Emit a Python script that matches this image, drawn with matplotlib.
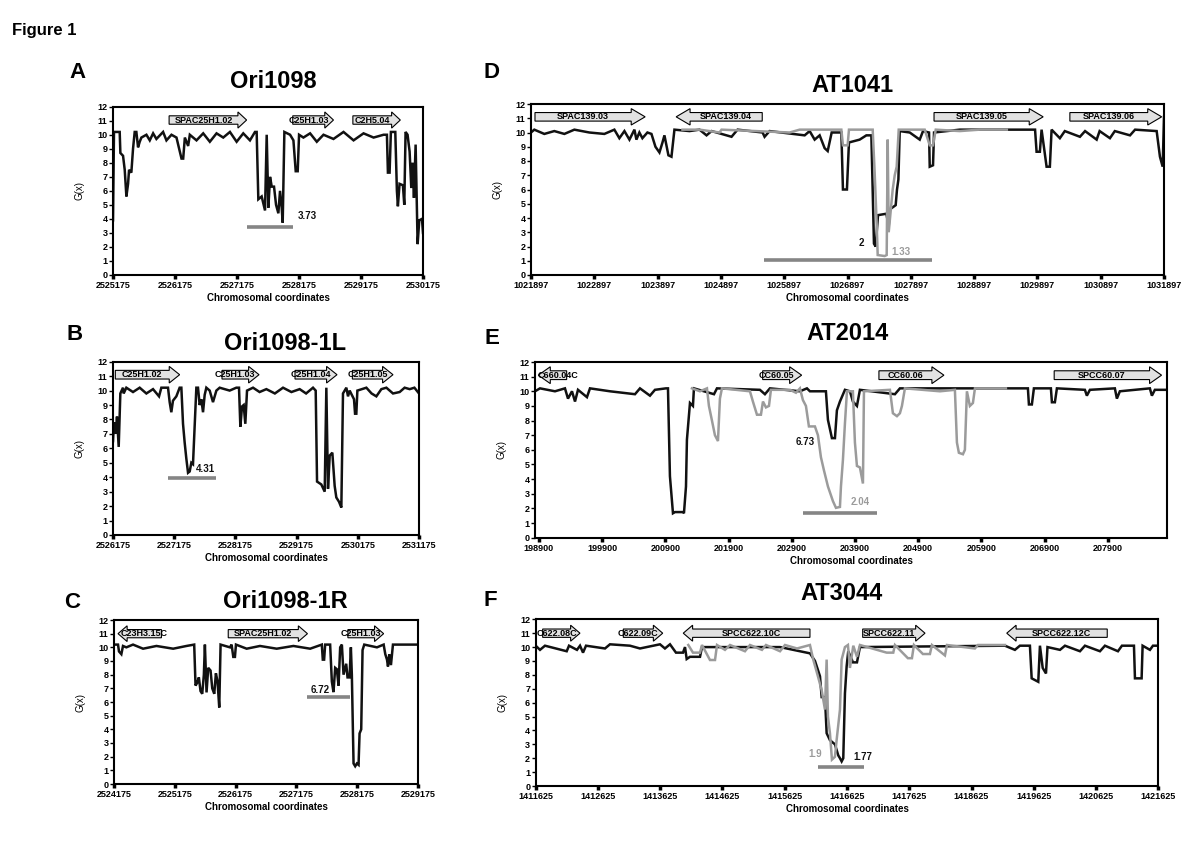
import matplotlib
matplotlib.use("Agg")
import matplotlib.pyplot as plt
from matplotlib.patches import FancyArrow

plt.rcParams['font.family'] = ['Liberation Sans', 'DejaVu Sans']

# G(x) profiles: (chromosomal coordinate, G(x))
a_black = [(2525175, 3.9), (2525191, 10.2), (2525283, 10.2), (2525294, 8.7), (2525337, 8.5), (2525364, 7.5),
           (2525391, 5.6), (2525418, 6.5), (2525434, 7.5), (2525471, 7.3), (2525498, 9.0), (2525525, 10.2),
           (2525552, 10.2), (2525579, 9.1), (2525606, 9.5), (2525633, 9.8), (2525714, 10.0), (2525768, 9.6),
           (2525822, 10.1), (2525875, 9.7), (2525983, 10.2), (2526037, 9.6), (2526118, 10.0), (2526199, 9.8),
           (2526242, 9.0), (2526280, 8.3), (2526307, 8.3), (2526334, 9.8), (2526387, 9.2), (2526414, 10.0),
           (2526522, 9.6), (2526630, 10.1), (2526737, 9.5), (2526845, 10.1), (2526953, 9.8), (2527061, 10.2),
           (2527169, 9.5), (2527276, 10.1), (2527384, 9.6), (2527465, 10.2), (2527492, 10.2), (2527519, 5.4),
           (2527573, 5.6), (2527627, 4.6), (2527654, 10.0), (2527681, 4.8), (2527708, 7.0), (2527735, 6.3),
           (2527772, 6.3), (2527805, 5.0), (2527842, 4.4), (2527869, 6.0), (2527896, 4.8), (2527912, 3.73),
           (2527939, 10.2), (2528031, 10.0), (2528085, 9.6), (2528122, 7.4), (2528154, 7.4), (2528176, 10.0),
           (2528246, 9.8), (2528354, 10.1), (2528462, 9.5), (2528570, 10.0), (2528731, 9.7), (2528893, 10.2),
           (2529055, 9.6), (2529216, 10.1), (2529378, 9.8), (2529539, 10.0), (2529593, 10.0), (2529609, 7.3),
           (2529636, 7.3), (2529657, 10.2), (2529728, 10.2), (2529754, 6.0), (2529770, 4.9), (2529797, 6.5),
           (2529851, 6.4), (2529873, 5.0), (2529894, 10.2), (2529926, 10.0), (2529959, 8.8), (2529986, 6.2),
           (2530007, 8.0), (2530029, 5.5), (2530056, 9.3), (2530088, 2.2), (2530115, 3.9), (2530158, 4.0),
           (2530175, 3.0)]

b_black = [(2526175, 6.5), (2526191, 7.8), (2526219, 7.0), (2526240, 8.2), (2526268, 6.1), (2526295, 9.8),
           (2526338, 10.2), (2526349, 9.8), (2526393, 10.2), (2526502, 9.9), (2526611, 10.2), (2526720, 9.8),
           (2526829, 10.1), (2526927, 9.6), (2526965, 10.2), (2527074, 10.2), (2527101, 9.2), (2527128, 8.5),
           (2527155, 9.3), (2527210, 9.6), (2527264, 10.2), (2527292, 10.2), (2527319, 7.7), (2527346, 6.4),
           (2527373, 5.3), (2527401, 4.31), (2527428, 4.4), (2527455, 5.0), (2527482, 4.9), (2527510, 7.6),
           (2527537, 10.2), (2527564, 10.2), (2527591, 9.0), (2527618, 9.4), (2527646, 8.5), (2527673, 9.7),
           (2527700, 10.2), (2527755, 10.0), (2527809, 9.2), (2527864, 10.0), (2527918, 10.2), (2528081, 10.0),
           (2528190, 10.2), (2528234, 10.2), (2528256, 7.5), (2528283, 8.9), (2528310, 9.0), (2528337, 7.7),
           (2528365, 10.0), (2528463, 10.2), (2528570, 9.9), (2528681, 10.1), (2528820, 9.8), (2528953, 10.2),
           (2529090, 9.9), (2529225, 10.1), (2529330, 9.8), (2529443, 10.2), (2529487, 10.0), (2529509, 3.7),
           (2529579, 3.5), (2529634, 3.0), (2529661, 10.2), (2529688, 3.2), (2529716, 5.5), (2529759, 5.7),
           (2529797, 3.4), (2529824, 2.6), (2529868, 2.3), (2529906, 1.9), (2529933, 9.8), (2529988, 10.2),
           (2530015, 9.6), (2530042, 10.0), (2530113, 9.4), (2530130, 8.4), (2530151, 8.4), (2530168, 10.0),
           (2530315, 10.2), (2530400, 9.8), (2530478, 9.6), (2530560, 10.1), (2530642, 10.2), (2530750, 9.8),
           (2530859, 9.9), (2530940, 10.2), (2531023, 10.1), (2531100, 10.2), (2531175, 9.8)]

c_black = [(2524175, 10.2), (2524241, 10.2), (2524257, 9.7), (2524296, 9.5), (2524323, 10.1), (2524378, 10.0),
           (2524488, 10.2), (2524653, 9.9), (2524873, 10.1), (2525148, 9.9), (2525367, 10.1), (2525494, 10.2),
           (2525516, 7.2), (2525543, 7.4), (2525571, 7.8), (2525598, 6.8), (2525626, 6.6), (2525653, 8.0),
           (2525670, 10.2), (2525697, 6.7), (2525725, 8.5), (2525763, 8.3), (2525791, 7.0), (2525824, 6.6),
           (2525851, 8.1), (2525878, 7.5), (2525906, 5.6), (2525928, 10.2), (2526082, 10.0), (2526109, 10.2),
           (2526137, 9.3), (2526164, 9.3), (2526181, 10.2), (2526357, 9.9), (2526576, 10.1), (2526851, 9.9),
           (2527126, 10.1), (2527401, 9.9), (2527593, 10.2), (2527609, 9.1), (2527631, 9.1), (2527648, 10.2),
           (2527730, 10.2), (2527758, 7.5), (2527785, 6.72), (2527813, 8.5), (2527840, 8.4), (2527868, 7.2),
           (2527895, 10.0), (2527923, 10.2), (2527950, 8.0), (2527994, 8.8), (2528016, 7.8), (2528049, 7.8),
           (2528071, 10.0), (2528087, 8.0), (2528104, 4.0), (2528115, 1.5), (2528142, 1.3), (2528170, 1.5),
           (2528197, 1.4), (2528214, 3.7), (2528241, 4.0), (2528263, 9.8), (2528291, 10.2), (2528500, 10.0),
           (2528610, 10.2), (2528637, 9.5), (2528665, 9.1), (2528681, 8.6), (2528703, 9.5), (2528730, 8.7),
           (2528763, 10.2), (2529175, 10.2)]

d_black = [(1021897, 10.0), (1021949, 10.2), (1022107, 9.9), (1022265, 10.1), (1022424, 9.9), (1022582, 10.2),
           (1022819, 10.0), (1023056, 9.9), (1023214, 10.2), (1023293, 9.6), (1023373, 10.1), (1023452, 9.5),
           (1023531, 10.2), (1023562, 9.5), (1023609, 10.0), (1023657, 9.6), (1023736, 10.0), (1023800, 9.9),
           (1023863, 9.0), (1023926, 8.6), (1023974, 9.3), (1024005, 9.8), (1024068, 8.4), (1024116, 8.3),
           (1024163, 10.2), (1024401, 10.1), (1024559, 10.2), (1024670, 9.8), (1024749, 10.1), (1025065, 9.7),
           (1025160, 10.2), (1025556, 10.0), (1025587, 9.7), (1025666, 10.1), (1026220, 9.8), (1026299, 10.1),
           (1026378, 9.5), (1026457, 9.8), (1026536, 8.9), (1026584, 8.7), (1026647, 10.0), (1026800, 10.0),
           (1026825, 6.0), (1026888, 6.0), (1026920, 9.3), (1027089, 9.5), (1027195, 9.8), (1027274, 9.8),
           (1027315, 2.2), (1027342, 2.0), (1027379, 4.2), (1027511, 4.3), (1027548, 3.4), (1027564, 4.6),
           (1027658, 4.9), (1027679, 6.0), (1027701, 6.7), (1027722, 10.1), (1027880, 10.0), (1028038, 9.5),
           (1028090, 10.1), (1028185, 10.0), (1028196, 7.6), (1028248, 7.7), (1028264, 10.0), (1028671, 10.2),
           (1029860, 10.2), (1029884, 8.65), (1029936, 8.65), (1029963, 10.2), (1030042, 7.6), (1030094, 7.6),
           (1030121, 10.2), (1030252, 9.6), (1030330, 10.1), (1030569, 9.7), (1030650, 10.1), (1030833, 9.5),
           (1030880, 10.1), (1031043, 9.6), (1031120, 10.1), (1031360, 9.8), (1031440, 10.2), (1031781, 10.1),
           (1031833, 8.3), (1031876, 7.6), (1031897, 11.1)]

d_grey = [(1024290, 10.2), (1024559, 10.2), (1024875, 10.0), (1024907, 10.2), (1025983, 10.0), (1026141, 10.2),
          (1026800, 10.2), (1026825, 9.1), (1026899, 9.1), (1026920, 10.2), (1027295, 10.2), (1027326, 7.2),
          (1027358, 3.6), (1027374, 1.4), (1027484, 1.33), (1027516, 1.4), (1027532, 9.5), (1027548, 3.0),
          (1027611, 6.0), (1027643, 7.0), (1027674, 7.6), (1027706, 10.2), (1028117, 10.2), (1028196, 9.1),
          (1028248, 9.1), (1028291, 10.2), (1028671, 10.1), (1028987, 10.2), (1029414, 10.2)]

e_black = [(198837, 10.0), (198916, 10.2), (199153, 10.0), (199311, 10.2), (199359, 9.5), (199422, 10.0),
           (199470, 9.3), (199517, 10.1), (199659, 9.6), (199707, 10.2), (200023, 10.0), (200419, 9.8),
           (200498, 10.2), (200656, 9.7), (200735, 10.1), (200909, 10.2), (200941, 10.2), (200972, 4.2),
           (201020, 1.67), (201052, 1.75), (201178, 1.75), (201194, 1.67), (201226, 3.5), (201241, 6.7),
           (201289, 9.2), (201336, 9.0), (201352, 10.2), (201669, 9.8), (201716, 10.2), (202396, 10.1),
           (202475, 9.8), (202554, 10.2), (203029, 10.0), (203140, 10.2), (203187, 10.0), (203440, 10.0),
           (203472, 8.05), (203535, 6.8), (203583, 6.8), (203614, 8.7), (203662, 9.3), (203741, 10.1),
           (203820, 10.0), (203867, 9.3), (203931, 9.0), (203978, 10.1), (204532, 9.8), (204611, 10.2),
           (206636, 10.2), (206652, 9.1), (206699, 9.1), (206731, 10.2), (207000, 10.2), (207016, 9.25),
           (207063, 9.25), (207095, 10.2), (207538, 10.1), (207569, 9.7), (207617, 10.1), (208012, 10.2),
           (208044, 9.5), (208091, 10.0), (208566, 10.2), (208598, 9.7), (208645, 10.1), (208835, 10.1)]

e_grey = [(201320, 10.2), (201447, 10.0), (201558, 10.2), (201589, 9.0), (201637, 8.0), (201684, 7.0),
          (201732, 6.6), (201763, 9.5), (201795, 10.2), (202238, 10.0), (202285, 9.3), (202349, 8.4),
          (202412, 8.4), (202444, 9.3), (202491, 8.9), (202539, 9.0), (202570, 10.1), (202871, 10.1),
          (202966, 9.9), (203029, 10.2), (203076, 9.4), (203124, 9.0), (203171, 7.6), (203266, 7.6),
          (203314, 7.0), (203361, 5.5), (203409, 4.6), (203472, 3.5), (203551, 2.5), (203599, 2.04),
          (203662, 2.1), (203678, 3.5), (203709, 5.3), (203741, 7.8), (203773, 10.0), (203867, 10.0),
          (203899, 6.5), (203931, 4.9), (203978, 4.8), (204026, 3.7), (204042, 10.0), (204453, 10.1),
          (204500, 8.5), (204564, 8.3), (204611, 8.5), (204643, 9.0), (204690, 10.2), (205244, 10.0),
          (205481, 10.1), (205513, 6.5), (205544, 5.8), (205608, 5.7), (205639, 6.0), (205671, 10.0),
          (205718, 9.0), (205766, 9.2), (205798, 10.2), (206288, 10.2)]

f_black = [(1411625, 10.1), (1411694, 9.8), (1411774, 10.1), (1412123, 9.7), (1412160, 10.1), (1412288, 9.8),
           (1412337, 10.1), (1412385, 9.6), (1412433, 10.1), (1412738, 9.9), (1412818, 10.2), (1413139, 10.1),
           (1413300, 9.9), (1413621, 10.2), (1413701, 9.9), (1413782, 10.2), (1413878, 9.6), (1413991, 9.6),
           (1414023, 10.0), (1414050, 9.14), (1414103, 9.3), (1414264, 9.3), (1414296, 10.0), (1415549, 10.0),
           (1416030, 9.55), (1416111, 9.0), (1416191, 7.9), (1416218, 6.4), (1416271, 6.4), (1416298, 3.8),
           (1416351, 3.3), (1416431, 3.0), (1416485, 2.2), (1416512, 2.0), (1416539, 1.77), (1416565, 2.0),
           (1416592, 6.67), (1416619, 8.6), (1416645, 9.7), (1416721, 8.9), (1416785, 8.9), (1416833, 10.0),
           (1419162, 10.1), (1419322, 9.8), (1419402, 10.1), (1419563, 10.1), (1419591, 7.75), (1419697, 7.5),
           (1419724, 10.1), (1419768, 8.5), (1419821, 8.1), (1419845, 10.0), (1420046, 9.8), (1420126, 10.1),
           (1420367, 9.7), (1420447, 10.1), (1420688, 9.7), (1420768, 10.1), (1420977, 9.7), (1421041, 10.1),
           (1421234, 10.1), (1421250, 7.75), (1421357, 7.75), (1421373, 10.1), (1421491, 9.8), (1421539, 10.1),
           (1421624, 10.1)]

f_grey = [(1414076, 10.15), (1414151, 9.6), (1414264, 9.6), (1414296, 10.15), (1414424, 9.07), (1414505, 9.07),
          (1414537, 10.15), (1414665, 9.8), (1414746, 10.15), (1414986, 9.7), (1415067, 10.15), (1415259, 9.8),
          (1415324, 10.15), (1415549, 9.7), (1415629, 10.15), (1415822, 9.9), (1416030, 10.15), (1416083, 9.1),
          (1416164, 7.8), (1416218, 6.9), (1416271, 5.5), (1416298, 9.1), (1416319, 5.0), (1416351, 3.8),
          (1416383, 1.9), (1416431, 2.1), (1416463, 3.5), (1416512, 5.5), (1416539, 9.1), (1416592, 10.0),
          (1416640, 10.15), (1416672, 8.5), (1416726, 10.1), (1416785, 9.3), (1416833, 10.15), (1417262, 9.6),
          (1417368, 9.6), (1417395, 10.15), (1417603, 9.2), (1417668, 9.2), (1417700, 10.15), (1417844, 9.5),
          (1417957, 9.5), (1417989, 10.15), (1418198, 9.4), (1418230, 10.15), (1418679, 9.9), (1418728, 10.15),
          (1419162, 10.15)]

# genes: name, tail coordinate, tip coordinate
a_genes = [('SPAC25H1.02', 2526080, 2527330), ('C25H1.03', 2528074, 2528731), ('C2H5.04', 2529044, 2529809)]
b_genes = [('C25H1.02', 2526213, 2527264), ('C25H1.03', 2527956, 2528561), ('C25H1.04', 2529149, 2529835),
           ('C25H1.05', 2530086, 2530750)]
c_genes = [('C23H3.15C', 2524955, 2524241), ('SPAC25H1.02', 2526054, 2527357), ('C25H1.03', 2528022, 2528610)]
d_genes = [('SPAC139.03', 1021960, 1023700), ('SPAC139.04', 1025550, 1024190), ('SPAC139.05', 1028264, 1029988),
           ('SPAC139.06', 1030410, 1031860)]
e_genes = [('C660.04C', 199338, 198889), ('CC60.05', 202439, 203056), ('CC60.06', 204279, 205307),
           ('SPCC60.07', 207052, 208751)]
f_genes = [('C622.08C', 1411737, 1412336), ('C622.09C', 1413032, 1413665), ('SPCC622.10C', 1416030, 1413995),
           ('SPCC622.11', 1416877, 1417878), ('SPCC622.12C', 1420805, 1419191)]

# highlighted regions (start, end, level)
a_bar = (2527330, 2528085, 3.41)
b_bar = (2527074, 2527864, 3.92)
c_bar = (2527357, 2528049, 6.38)
d_bar = (1025576, 1028239, 1.05)
e_bar = (203081, 204242, 1.71)
f_bar = (1416164, 1416898, 1.39)

BLACK = '#111111'
GREY = '#9b9b9b'
BAR = '#858585'
BOX = '#e2e2e2'

fig = plt.figure(figsize=(12, 8.52), dpi=100)


def rect(left, top, right, bottom):
    return [left / 1200, 1 - bottom / 852, (right - left) / 1200, (bottom - top) / 852]


def make(box, xlim, ticks, letter, title, lpos, tpos):
    ax = fig.add_axes(rect(*box))
    ax.set_xlim(*xlim)
    ax.set_ylim(0, 12)
    ax.set_yticks(range(13))
    ax.set_yticklabels([str(i) for i in range(13)], fontsize=6.5, fontweight='bold')
    ax.set_xticks(ticks)
    ax.set_xticklabels([str(t) for t in ticks], fontsize=6.5, fontweight='bold')
    for s in ax.spines.values():
        s.set_linewidth(1.5)
    ax.tick_params(axis='x', length=3, width=2.5, pad=1.5)
    ax.tick_params(axis='y', length=3, width=1, pad=1)
    ax.set_ylabel('G(x)', fontsize=7, labelpad=9)
    ax.set_xlabel('Chromosomal coordinates', fontsize=7, fontweight='bold', labelpad=2)
    fig.text(lpos[0] / 1200, 1 - lpos[1] / 852, letter, fontsize=16, fontweight='bold', ha='center', va='center')
    fig.text(tpos[0] / 1200, 1 - tpos[1] / 852, title, fontsize=17, fontweight='bold', ha='center', va='center')
    return ax


def trace(ax, pts, color, lw=1.8, z=2):
    xs, ys = zip(*pts)
    ax.plot(xs, ys, color=color, lw=lw, zorder=z, solid_joinstyle='miter')


def genes(ax, items, y, head):
    for name, tail, tip in items:
        d = tip - tail
        ax.add_patch(FancyArrow(tail, y, d, 0, width=0.6, head_width=1.15, head_length=head,
                                length_includes_head=True, fc=BOX, ec='black', lw=0.8, zorder=4))
        sign = 1 if d > 0 else -1
        cx = (tail + tip - sign * head) / 2
        ax.text(cx, y, name, ha='center', va='center', fontsize=6.5, fontweight='bold', zorder=5)


def region(ax, bar):
    ax.plot([bar[0], bar[1]], [bar[2], bar[2]], color=BAR, lw=2.6, solid_capstyle='butt', zorder=3)


def label(ax, x, y, s, color=BLACK, ha='center'):
    ax.text(x, y, s, color=color, fontsize=7, fontweight='bold', ha=ha, va='center', zorder=5)


fig.text(12 / 1200, 1 - 30 / 852, 'Figure 1', fontsize=12, fontweight='bold', ha='left', va='center')

# Panel A
ax = make((113, 106.7, 423, 275), (2525175, 2530175), list(range(2525175, 2530176, 1000)),
          'A', 'Ori1098', (77, 72), (273, 81))
trace(ax, a_black, BLACK)
genes(ax, a_genes, 11.05, 140)
region(ax, a_bar)
label(ax, 2528155, 4.18, '3.73', ha='left')

# Panel B
ax = make((113, 361.7, 419, 535), (2526175, 2531175), list(range(2526175, 2531176, 1000)),
          'B', 'Ori1098-1L', (75, 335), (285, 343))
trace(ax, b_black, BLACK)
genes(ax, b_genes, 11.1, 170)
region(ax, b_bar)
label(ax, 2527684, 4.55, '4.31')

# Panel C
ax = make((114, 620, 418, 784), (2524175, 2529175), list(range(2524175, 2529176, 1000)),
          'C', 'Ori1098-1R', (72, 603), (285, 602))
trace(ax, c_black, BLACK)
genes(ax, c_genes, 11.0, 150)
region(ax, c_bar)
label(ax, 2527565, 6.9, '6.72')

# Panel D
ax = make((531, 104, 1164, 275), (1021897, 1031897), list(range(1021897, 1031898, 1000)),
          'D', 'AT1041', (492, 72), (852, 86))
trace(ax, d_black, BLACK)
trace(ax, d_grey, GREY, z=2.5)
genes(ax, d_genes, 11.1, 220)
region(ax, d_bar)
label(ax, 1027116, 2.27, '2')
label(ax, 1027749, 1.6, '1.33', color=GREY)

# Panel E
ax = make((535, 362, 1167, 537.7), (198837, 208837), list(range(198900, 207901, 1000)),
          'E', 'AT2014', (492, 338), (848, 333))
trace(ax, e_black, BLACK)
trace(ax, e_grey, GREY, z=2.5)
genes(ax, e_genes, 11.1, 190)
region(ax, e_bar)
label(ax, 203108, 6.57, '6.73')
label(ax, 203978, 2.46, '2.04', color=GREY)

# Panel F
ax = make((535.7, 619.3, 1158.3, 786), (1411625, 1421625), list(range(1411625, 1421626, 1000)),
          'F', 'AT3044', (490, 600), (842, 593))
trace(ax, f_black, BLACK)
trace(ax, f_grey, GREY, z=2.5)
genes(ax, f_genes, 11.0, 150)
region(ax, f_bar)
label(ax, 1416230, 2.3, '1.9', color=GREY, ha='right')
label(ax, 1416726, 2.1, '1.77', ha='left')

fig.savefig('out.png', dpi=100)
